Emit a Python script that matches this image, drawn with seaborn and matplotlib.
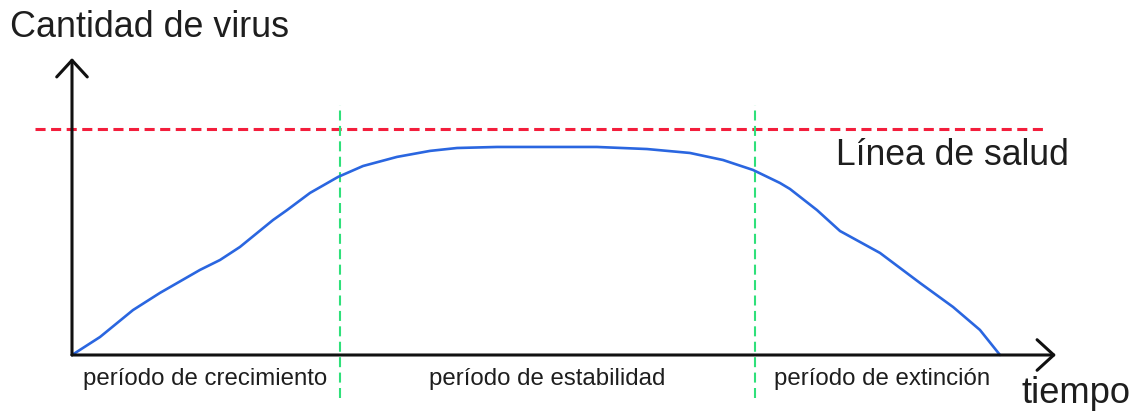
import matplotlib
matplotlib.use("Agg")
import matplotlib.pyplot as plt
import seaborn as sns
import pandas as pd

# ---- data (time units 0..100, virus amount units, plateau ~100) ----
tiempo = [0, 3.02, 6.57, 9.48, 13.79, 15.95, 18.10, 21.66, 23.17, 25.65, 28.66,
          31.36, 35.02, 38.58, 41.49, 45.80, 56.57, 61.96, 66.59, 70.15, 73.38,
          76.29, 77.37, 80.28, 82.76, 87.07, 91.38, 94.94, 97.84, 100.0]
virus = [0, 8.7, 21.7, 30.0, 41.1, 45.9, 52.2, 65.2, 70.0, 78.3, 86.0,
         91.3, 95.7, 98.6, 100.0, 100.5, 100.5, 99.5, 97.6, 94.2, 89.4,
         83.1, 80.2, 70.0, 59.9, 49.3, 34.8, 23.2, 12.1, 0.0]
linea_salud = 109.2
limites_periodo = [28.9, 73.6]
etiquetas_periodo = ["período de crecimiento", "período de estabilidad", "período de extinción"]
titulo_y = "Cantidad de virus"
titulo_x = "tiempo"
texto_salud = "Línea de salud"

df = pd.DataFrame({"tiempo": tiempo, "virus": virus})

sns.set_theme(style="white")
plt.rcParams["font.family"] = ["Liberation Sans", "DejaVu Sans"]

W, H = 1135, 415
fig = plt.figure(figsize=(W / 100, H / 100), dpi=100)
ax = fig.add_axes([0, 0, 1, 1])

# pixel mapping: t -> 72 + 9.28 t ; v -> 355 - 2.07 v
sx, ox = 9.28, 72
sy, oy = 2.07, 355
ax.set_xlim((0 - ox) / sx, (W - ox) / sx)
ax.set_ylim((oy - H) / sy, oy / sy)
ax.axis("off")

# health line
ax.hlines(linea_salud, (35 - ox) / sx, (1045 - ox) / sx, colors="#f31e3c",
          linewidth=2.2, linestyles=(0, (3.3, 1.8)), zorder=2)
# period boundaries
for b in limites_periodo:
    ax.vlines(b, (oy - 398) / sy, (oy - 105) / sy, colors="#2fe07a",
              linewidth=1.5, linestyles=(0, (4.8, 2.6)), zorder=2)

# curve
sns.lineplot(data=df, x="tiempo", y="virus", ax=ax, color="#2a66e0",
             linewidth=1.9, zorder=4, sort=False)

# axes with arrows
arrow = dict(arrowstyle="->,head_length=0.6,head_width=0.55",
             lw=2.2, color="#111111", mutation_scale=20, shrinkA=0, shrinkB=0)
ax.annotate("", xy=(0, (oy - 58) / sy), xytext=(0, 0), arrowprops=arrow, zorder=5)
ax.annotate("", xy=((1056 - ox) / sx, 0), xytext=(0, 0), arrowprops=arrow, zorder=5)

def fx(px):
    return px / W

def fy(py):
    return 1 - py / H

tc = "#1e1e1e"
fig.text(fx(10), fy(37), titulo_y, fontsize=25.8, color=tc, ha="left", va="baseline")
fig.text(fx(836), fy(165), texto_salud, fontsize=25.6, color=tc, ha="left", va="baseline")
fig.text(fx(1022), fy(403), titulo_x, fontsize=26.2, color=tc, ha="left", va="baseline")

centros = [205, 547, 882]
for c, lab in zip(centros, etiquetas_periodo):
    fig.text(fx(c), fy(385), lab, fontsize=17.3, color=tc, ha="center", va="baseline")

fig.savefig("out.png", dpi=100)
